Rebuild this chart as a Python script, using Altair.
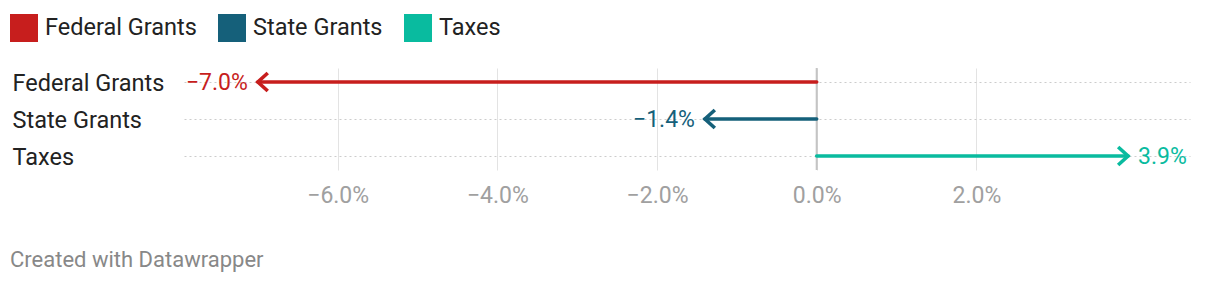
import altair as alt
import pandas as pd

categories = ["Federal Grants", "State Grants", "Taxes"]
values = [-7.0, -1.4, 3.9]
colors = ["#c71e1d", "#15607a", "#09bb9f"]
tick_values = [-6, -4, -2, 0, 2]

df = pd.DataFrame({"category": categories, "value": values})
df["zero"] = 0.0
df["shape"] = ["M1.1,-1L0,0L1.1,1" if v < 0 else "M-1.1,-1L0,0L-1.1,1" for v in values]
df["label"] = [("\u2212" if v < 0 else "") + f"{abs(v):.1f}%" for v in values]

FONT = "Roboto"
xdom = [-7.925, 4.676]

x_scale = alt.Scale(domain=xdom, nice=False, zero=False)
y_enc = alt.Y(
    "category:N",
    sort=categories,
    scale=alt.Scale(type="point", domain=categories, padding=0.378),
    axis=alt.Axis(
        title=None, domain=False, ticks=False, tickSize=0,
        labelAlign="left", labelPadding=172, labelFontSize=23.5,
        labelColor="#222222", labelFont=FONT, labelBaseline="middle",
        labelOffset=1.5,
        grid=True, gridDash=[2, 3], gridColor="#cccccc", gridWidth=1,
    ),
)
color_enc = alt.Color(
    "category:N",
    scale=alt.Scale(domain=categories, range=colors),
    legend=alt.Legend(
        title=None, orient="none", legendX=-174, legendY=-54,
        direction="horizontal", symbolType="square", symbolSize=196,
        symbolStrokeWidth=14, symbolOpacity=1, labelFontSize=23.5,
        labelFont=FONT, labelColor="#222222", labelOffset=7,
        columnPadding=0, padding=0,
    ),
    sort=categories,
)

base = alt.Chart(df)

x_axis = alt.Axis(
    title=None, values=tick_values, domain=False, ticks=False, tickSize=0,
    labelExpr="replace(format(datum.value, '.1f'), '-', '\u2212') + '%'",
    labelFontSize=23, labelColor="#a0a0a0", labelFont=FONT, labelPadding=14,
    grid=True, gridColor="#e3e3e3", gridWidth=1,
)

grid_layer = alt.Chart(pd.DataFrame({"z": [0.0]})).mark_rule(
    color="#c4c4c4", strokeWidth=2
).encode(x=alt.X("z:Q", scale=x_scale, axis=x_axis))

rules = base.mark_rule(strokeWidth=3.6, strokeCap="round").encode(
    x=alt.X("zero:Q", scale=x_scale, axis=x_axis),
    x2="value:Q",
    y=y_enc,
    color=color_enc,
)

heads = base.mark_point(filled=False, strokeWidth=3.6, size=324, opacity=1,
                        strokeJoin="miter", strokeCap="butt").encode(
    x=alt.X("value:Q", scale=x_scale),
    y=alt.Y("category:N", sort=categories),
    shape=alt.Shape("shape:N", scale=None),
    color=alt.Color("category:N", sort=categories),
)

neg_labels = base.transform_filter("datum.value < 0").mark_text(
    align="right", baseline="middle", dx=-10, dy=1, fontSize=23, font=FONT
).encode(
    x=alt.X("value:Q", scale=x_scale),
    y=alt.Y("category:N", sort=categories),
    text="label:N",
    color=alt.Color("category:N", sort=categories),
)

pos_labels = base.transform_filter("datum.value >= 0").mark_text(
    align="left", baseline="middle", dx=10, dy=1, fontSize=23, font=FONT
).encode(
    x=alt.X("value:Q", scale=x_scale),
    y=alt.Y("category:N", sort=categories),
    text="label:N",
    color=alt.Color("category:N", sort=categories),
)

chart = alt.layer(grid_layer, rules, heads, neg_labels, pos_labels).properties(
    width=1006,
    height=102,
    autosize=alt.AutoSizeParams(type="none"),
    padding={"left": 184, "top": 68, "right": 30, "bottom": 114},
    title=alt.TitleParams(
        text="Created with Datawrapper", orient="bottom", anchor="start",
        frame="group", fontSize=22, font=FONT, fontWeight="normal",
        color="#888888", dx=-174, offset=43,
    ),
).configure(background="white").configure_view(strokeWidth=0)

chart.save("out.html", embed_options={"renderer": "svg", "actions": False})
